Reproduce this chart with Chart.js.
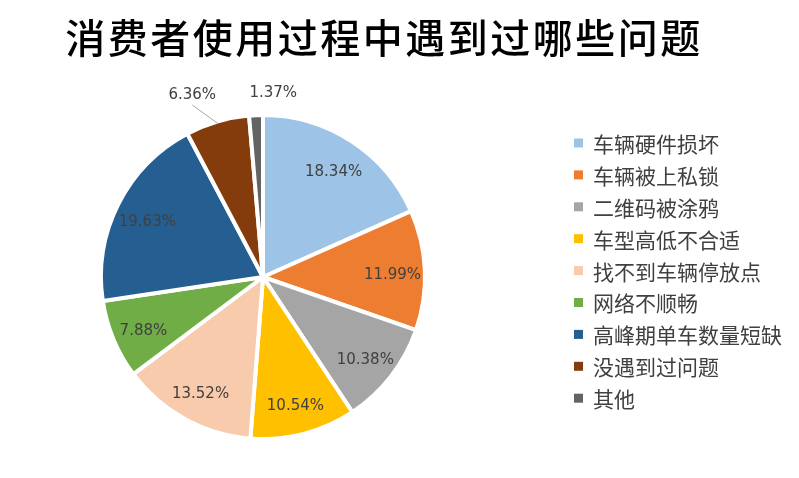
<!DOCTYPE html>
<html><head><meta charset="utf-8">
<script src="https://cdn.jsdelivr.net/npm/chart.js@4/dist/chart.umd.min.js"></script>
<style>html,body{margin:0;padding:0;background:#fff;}canvas{display:block;}</style>
</head><body>
<canvas id="c" width="799" height="478"></canvas>
<script>
const title = '消费者使用过程中遇到过哪些问题';
const categories = ['车辆硬件损坏','车辆被上私锁','二维码被涂鸦','车型高低不合适','找不到车辆停放点','网络不顺畅','高峰期单车数量短缺','没遇到过问题','其他'];
const shares = [18.34, 11.99, 10.38, 10.54, 13.52, 7.88, 19.63, 6.36, 1.37];
const labels = ['18.34%','11.99%','10.38%','10.54%','13.52%','7.88%','19.63%','6.36%','1.37%'];
const colors = ['#9DC3E6','#ED7D31','#A5A5A5','#FFC000','#F8CBAD','#70AD47','#255E91','#843C0C','#636363'];

const titlePlugin = {
  id: 'titleP',
  afterDraw(chart) {
    const ctx = chart.ctx;
    ctx.save();
    ctx.font = '500 40px "Noto Sans CJK SC"';
    try { ctx.letterSpacing = '2.5px'; } catch (e) {}
    ctx.fillStyle = '#000';
    ctx.textAlign = 'center';
    ctx.textBaseline = 'middle';
    ctx.fillText(title, 384, 38);
    ctx.restore();
  }
};

const legendPlugin = {
  id: 'legendP',
  afterDraw(chart) {
    const ctx = chart.ctx;
    ctx.save();
    ctx.font = '21px "Noto Sans CJK SC"';
    ctx.textBaseline = 'middle';
    ctx.textAlign = 'left';
    categories.forEach((c, i) => {
      const y = 143 + i * 31.9;
      ctx.fillStyle = colors[i];
      ctx.fillRect(574, y - 4.5, 9, 9);
      ctx.fillStyle = '#404040';
      ctx.fillText(c, 593, y + 1);
    });
    ctx.restore();
  }
};

const labelPlugin = {
  id: 'labelP',
  afterDatasetsDraw(chart) {
    const ctx = chart.ctx;
    const meta = chart.getDatasetMeta(0);
    ctx.save();
    ctx.font = '15px "DejaVu Sans"';
    ctx.textAlign = 'center';
    ctx.textBaseline = 'middle';
    const outside = [];
    meta.data.forEach((arc, i) => {
      const p = arc.getProps(['x','y','startAngle','endAngle','outerRadius'], true);
      const mid = (p.startAngle + p.endAngle) / 2;
      if (shares[i] >= 7) {
        const r = p.outerRadius * 0.8;
        ctx.fillStyle = '#404040';
        ctx.fillText(labels[i], p.x + Math.cos(mid) * r, p.y + Math.sin(mid) * r + 4);
      } else {
        const r = p.outerRadius + 24;
        outside.push({i, mid, p, x: p.x + Math.cos(mid) * r, y: Math.min(p.y + Math.sin(mid) * r, p.y - p.outerRadius - 22)});
      }
    });
    outside.sort((a, b) => a.x - b.x);
    for (let k = 1; k < outside.length; k++) {
      const a = outside[k-1], b = outside[k];
      const gap = 81 - (b.x - a.x);
      if (gap > 0) { a.x -= gap / 2; b.x += gap / 2; }
    }
    outside.forEach(o => {
      const ex = o.p.x + Math.cos(o.mid) * (o.p.outerRadius - 2);
      const ey = o.p.y + Math.sin(o.mid) * (o.p.outerRadius - 2);
      if (Math.hypot(ex - o.x, ey - o.y) > 35) {
        ctx.strokeStyle = '#A6A6A6';
        ctx.lineWidth = 1;
        ctx.beginPath();
        ctx.moveTo(o.x, o.y + 12);
        ctx.lineTo(ex, ey);
        ctx.stroke();
      }
      ctx.fillStyle = '#404040';
      ctx.fillText(labels[o.i], o.x, o.y + 2);
    });
    ctx.restore();
  }
};

new Chart(document.getElementById('c'), {
  type: 'pie',
  data: {
    labels: categories,
    datasets: [{ data: shares, backgroundColor: colors, borderColor: '#ffffff', borderWidth: 4 }]
  },
  options: {
    responsive: false,
    animation: false,
    layout: { padding: { left: 99, right: 372, top: 113, bottom: 37 } },
    plugins: { legend: { display: false }, tooltip: { enabled: false }, title: { display: false } }
  },
  plugins: [titlePlugin, legendPlugin, labelPlugin]
});
</script>
</body></html>
